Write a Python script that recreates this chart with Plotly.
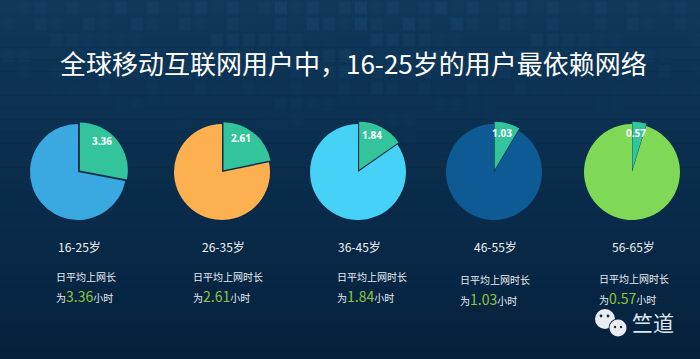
import math
import plotly.graph_objects as go

# ---- data ----
title_text = "全球移动互联网用户中，16-25岁的用户最依赖网络"
age_groups = ["16-25岁", "26-35岁", "36-45岁", "46-55岁", "56-65岁"]
daily_hours = [3.36, 2.61, 1.84, 1.03, 0.57]
base_hours = 12  # pie total used by the infographic
caption_lines = ["日平均上网长", "日平均上网时长", "日平均上网时长", "日平均上网时长", "日平均上网时长"]
main_colors = ["#3aa9e1", "#fdb050", "#46d2f7", "#0e5a95", "#7fd957"]
slice_color = "#33c49b"

# ---- layout constants ----
W, H = 700, 359
centers_x = [78, 222, 358, 494, 632]
center_y = 172
radius = 48
pull = 0.05
caption_x = [54, 191, 335, 458, 597]
caption_y1 = [276, 276, 276, 279, 278]
caption_y2 = [296, 296, 296, 299, 298]
FONT = "Noto Sans CJK SC"

def px(x):
    return x / W

def py(y):
    return 1 - y / H

fig = go.Figure()

for i, (age, h) in enumerate(zip(age_groups, daily_hours)):
    cx = centers_x[i]
    half = radius * (1 + pull)
    fig.add_trace(go.Pie(
        values=[h, base_hours - h],
        labels=[f"{age} 上网", f"{age} 其他"],
        sort=False,
        direction="clockwise",
        rotation=0,
        pull=[pull, 0],
        marker=dict(colors=[slice_color, main_colors[i]], line=dict(width=0)),
        textinfo="none",
        hoverinfo="skip",
        showlegend=False,
        domain=dict(x=[px(cx - half), px(cx + half)],
                    y=[py(center_y + half), py(center_y - half)]),
    ))

shapes = []
# background gradient bands
top = (16, 56, 90)
bot = (5, 34, 61)
n_bands = 30
for k in range(n_bands):
    t = k / (n_bands - 1)
    c = tuple(int(top[j] + (bot[j] - top[j]) * t) for j in range(3))
    shapes.append(dict(type="rect", xref="paper", yref="paper",
                       x0=0, x1=1, y0=1 - (k + 1) / n_bands, y1=1 - k / n_bands,
                       fillcolor=f"rgb{c}", line=dict(width=0), layer="below"))
# decorative tile grid at the top
step = 16
for col in range(0, W // step + 1):
    for row in range(0, 9):
        x0 = col * step + 3
        y0 = row * step + 2
        dist = abs(x0 - 350) / 350
        v = ((col * 7 + row * 3 + (col * row) % 4) % 5) / 4
        a = 0.12 * v * (1 - 0.6 * dist) * (1 - row / 10)
        if a < 0.02:
            continue
        shapes.append(dict(type="rect", xref="paper", yref="paper",
                           x0=px(x0), x1=px(x0 + step - 4),
                           y0=py(y0 + step - 4), y1=py(y0),
                           fillcolor=f"rgba(60,130,180,{a:.3f})",
                           line=dict(width=0), layer="below"))

# WeChat-like icon
def circle(cx, cy, r, color):
    return dict(type="circle", xref="paper", yref="paper",
                x0=px(cx - r), x1=px(cx + r), y0=py(cy + r), y1=py(cy - r),
                fillcolor=color, line=dict(width=0), layer="above")

shapes.append(circle(605, 319, 10, "#e9edf2"))
shapes.append(circle(618, 328, 9.5, "#0a2a48"))
shapes.append(circle(618, 328, 8.5, "#e9edf2"))
shapes.append(circle(601, 316, 1.4, "#0a2a48"))
shapes.append(circle(608, 316, 1.4, "#0a2a48"))
shapes.append(circle(615, 327, 1.2, "#0a2a48"))
shapes.append(circle(621, 327, 1.2, "#0a2a48"))

annotations = []
annotations.append(dict(text=title_text, x=px(353), y=py(62), xref="paper", yref="paper",
                        showarrow=False, xanchor="center", yanchor="middle",
                        font=dict(family=FONT, size=26, color="#ffffff")))

for i, (age, h) in enumerate(zip(age_groups, daily_hours)):
    cx = centers_x[i]
    # slice label, placed inside the pulled slice
    mid = (h / base_hours) * math.pi  # half of slice angle
    ang = mid * 0.8
    rr = radius * 0.78
    lx = cx + rr * math.sin(ang)
    ly = center_y - rr * math.cos(ang) - 2
    annotations.append(dict(text=f"<b>{h:.2f}</b>", x=px(lx), y=py(ly), xref="paper", yref="paper",
                            showarrow=False, xanchor="center", yanchor="middle",
                            font=dict(family="Open Sans", size=10, color="#ffffff")))
    annotations.append(dict(text=age, x=px(cx + 1), y=py(246), xref="paper", yref="paper",
                            showarrow=False, xanchor="center", yanchor="middle",
                            font=dict(family=FONT, size=12, color="#eef2f6")))
    annotations.append(dict(text=caption_lines[i], x=px(caption_x[i]), y=py(caption_y1[i]),
                            xref="paper", yref="paper", showarrow=False,
                            xanchor="left", yanchor="middle",
                            font=dict(family=FONT, size=10, color="#e6ebf0")))
    annotations.append(dict(
        text=f"为<span style='font-size:14px;color:#8dc63f'>{h:.2f}</span>小时",
        x=px(caption_x[i]), y=py(caption_y2[i]), xref="paper", yref="paper",
        showarrow=False, xanchor="left", yanchor="middle",
        font=dict(family=FONT, size=10, color="#e6ebf0")))

annotations.append(dict(text="竺道", x=px(630), y=py(322), xref="paper", yref="paper",
                        showarrow=False, xanchor="left", yanchor="middle",
                        font=dict(family=FONT, size=21, color="#dfe5ec")))

fig.update_layout(
    width=W, height=H,
    margin=dict(l=0, r=0, t=0, b=0),
    paper_bgcolor="#072848",
    plot_bgcolor="#072848",
    shapes=shapes,
    annotations=annotations,
    showlegend=False,
)

fig.write_html("out.html",
               config={"displayModeBar": False},
               post_script="document.body.style.margin='0';document.body.style.overflow='hidden';")
